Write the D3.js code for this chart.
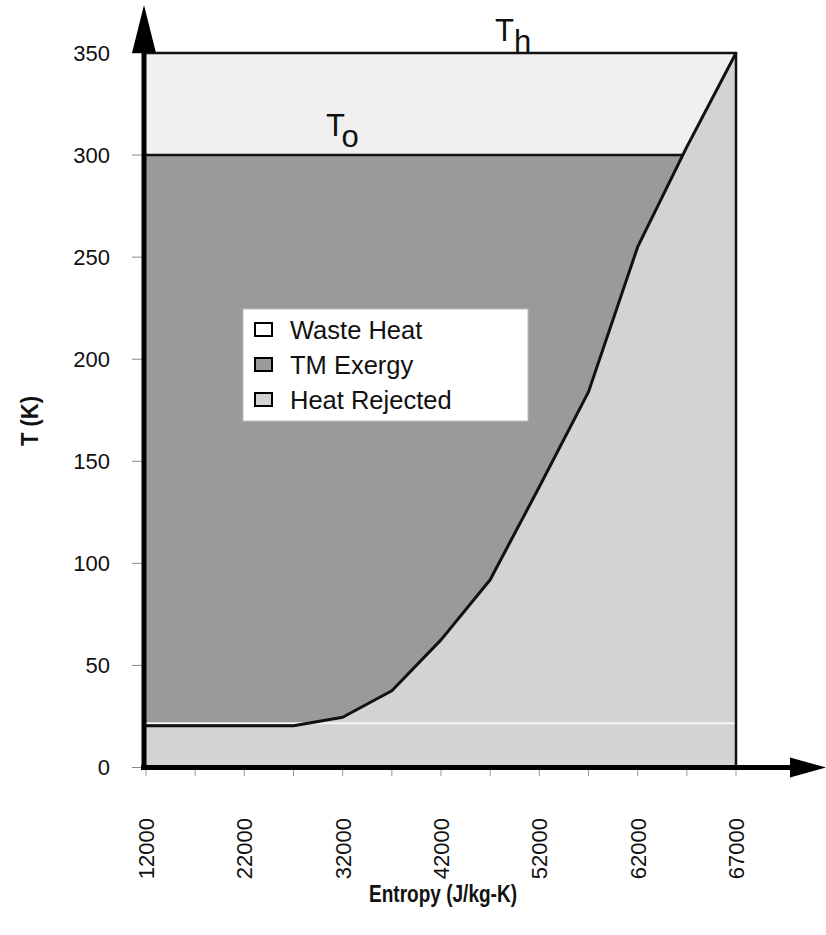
<!DOCTYPE html>
<html>
<head>
<meta charset="utf-8">
<script src="https://cdn.jsdelivr.net/npm/d3@7"></script>
<style>
  html, body { margin: 0; padding: 0; background: #ffffff; }
  svg text { font-family: "Liberation Sans", Arial, Helvetica, sans-serif; fill: #111; }
  svg text.title { font-weight: bold; }
</style>
</head>
<body>
<svg id="chart" width="826" height="935"></svg>
<script>
// Entropy grid (J/kg-K), one entry per tick along the horizontal axis
const entropySteps = ["12000", "17000", "22000", "27000", "32000", "37000", "42000",
                      "47000", "52000", "57000", "62000", "64500", "67000"];
// Labelled entropy ticks
const entropyLabels = ["12000", "22000", "32000", "42000", "52000", "62000", "67000"];
// Working-fluid temperature (K) at each entropy step
const fluidTemp = [20.5, 20.5, 20.5, 20.5, 24.6, 37.6, 62.5, 92, 137.5, 184, 255, 304, 350];
// Temperature ticks (K)
const tempTicks = [0, 50, 100, 150, 200, 250, 300, 350];
// Reference temperatures (K)
const T0 = 300;     // ambient
const Th = 350;     // hot source
const Tline = 21.7; // faint base isotherm
// Legend entries
const legendNames = ["Waste Heat", "TM Exergy", "Heat Rejected"];
const legendFills = ["#ffffff", "#9b9b9b", "#d2d2d2"];

const fillWaste = "#f0f0f0";
const fillExergy = "#9a9a9a";
const fillRejected = "#d3d3d3";

const svg = d3.select("#chart");

const x = d3.scalePoint().domain(entropySteps).range([146, 736]).padding(0);
const y = d3.scaleLinear().domain([0, 350]).range([767.5, 53]);

const pts = entropySteps.map((s, i) => ({ s, t: fluidTemp[i] }));

// Waste heat band: between T0 and Th
svg.append("rect")
  .attr("x", x(entropySteps[0])).attr("y", y(Th))
  .attr("width", x(entropySteps[entropySteps.length - 1]) - x(entropySteps[0]))
  .attr("height", y(T0) - y(Th))
  .attr("fill", fillWaste);

// Exergy region: below T0, left of the fluid curve
const clipT = d => Math.min(d.t, T0);
const exergy = d3.area()
  .x(d => x(d.s))
  .y0(d => y(clipT(d)))
  .y1(y(T0));
svg.append("path")
  .datum(pts)
  .attr("d", exergy)
  .attr("fill", fillExergy);

// Heat rejected: under the fluid curve
const rejected = d3.area()
  .x(d => x(d.s))
  .y0(y(0))
  .y1(d => y(d.t));
svg.append("path")
  .datum(pts)
  .attr("d", rejected)
  .attr("fill", fillRejected);

// faint base isotherm
svg.append("line")
  .attr("x1", x(entropySteps[0])).attr("x2", x(entropySteps[entropySteps.length - 1]))
  .attr("y1", y(Tline)).attr("y2", y(Tline))
  .attr("stroke", "#f6f6f6").attr("stroke-width", 2);

// T0 isotherm up to where it meets the curve
const idx = fluidTemp.findIndex(t => t >= T0);
const ta = fluidTemp[idx - 1], tb = fluidTemp[idx];
const xa = x(entropySteps[idx - 1]), xb = x(entropySteps[idx]);
const xMeet = xa + (T0 - ta) / (tb - ta) * (xb - xa);
svg.append("line")
  .attr("x1", x(entropySteps[0])).attr("x2", xMeet)
  .attr("y1", y(T0)).attr("y2", y(T0))
  .attr("stroke", "#111").attr("stroke-width", 2.5);

// Th isotherm and right boundary
svg.append("path")
  .attr("d", `M${x(entropySteps[0])},${y(Th)} H${x(entropySteps[entropySteps.length - 1])} V${y(0)}`)
  .attr("fill", "none").attr("stroke", "#111").attr("stroke-width", 2.5);

// fluid curve
svg.append("path")
  .datum(pts)
  .attr("d", d3.line().x(d => x(d.s)).y(d => y(d.t)))
  .attr("fill", "none").attr("stroke", "#111").attr("stroke-width", 3)
  .attr("stroke-linejoin", "round");

// y ticks
const yAxisX = 144;
svg.append("g").selectAll("line").data(tempTicks).join("line")
  .attr("x1", 132).attr("x2", yAxisX)
  .attr("y1", d => y(d)).attr("y2", d => y(d))
  .attr("stroke", "#888").attr("stroke-width", 1);
svg.append("g").selectAll("text").data(tempTicks).join("text")
  .attr("x", 110).attr("y", d => y(d)).attr("dy", "0.36em")
  .attr("text-anchor", "end").attr("font-size", 22)
  .text(d => d);

// x ticks
svg.append("g").selectAll("line").data(entropySteps).join("line")
  .attr("x1", d => x(d)).attr("x2", d => x(d))
  .attr("y1", 769).attr("y2", 776)
  .attr("stroke", "#999").attr("stroke-width", 1);
svg.append("g").selectAll("text").data(entropyLabels).join("text")
  .attr("transform", d => `translate(${x(d) + 8},818) rotate(-90)`)
  .attr("text-anchor", "end").attr("font-size", 22)
  .text(d => d);

// axes with arrowheads
svg.append("line")
  .attr("x1", yAxisX).attr("x2", yAxisX).attr("y1", 40).attr("y2", 770)
  .attr("stroke", "#000").attr("stroke-width", 5);
svg.append("path")
  .attr("d", `M${yAxisX},5 L${yAxisX + 12},53 L${yAxisX - 12},53 Z`)
  .attr("fill", "#000");
svg.append("line")
  .attr("x1", 141).attr("x2", 800).attr("y1", y(0)).attr("y2", y(0))
  .attr("stroke", "#000").attr("stroke-width", 5);
svg.append("path")
  .attr("d", `M826,${y(0)} L790,${y(0) - 10} L790,${y(0) + 10} Z`)
  .attr("fill", "#000");

// axis titles (condensed bold)
svg.append("text").attr("class", "title")
  .attr("transform", "translate(38,421) rotate(-90)")
  .attr("text-anchor", "middle").attr("font-size", 23)
  .attr("textLength", 50).attr("lengthAdjust", "spacingAndGlyphs")
  .text("T (K)");
svg.append("text").attr("class", "title")
  .attr("x", 443).attr("y", 902)
  .attr("text-anchor", "middle").attr("font-size", 23)
  .attr("textLength", 148).attr("lengthAdjust", "spacingAndGlyphs")
  .text("Entropy (J/kg-K)");

// temperature labels
function tempLabel(px, py, sub) {
  const t = svg.append("text").attr("x", px).attr("y", py).attr("font-size", 31);
  t.append("tspan").text("T");
  t.append("tspan").attr("dy", 11).text(sub);
}
tempLabel(495, 41, "h");
tempLabel(326, 136, "o");

// legend
const lg = svg.append("g").attr("transform", "translate(243,309)");
lg.append("rect").attr("width", 285).attr("height", 112)
  .attr("fill", "#fff").attr("stroke", "#bbb").attr("stroke-width", 1);
const rows = lg.selectAll("g").data(legendNames).join("g")
  .attr("transform", (d, i) => `translate(0,${21 + i * 35})`);
rows.append("rect")
  .attr("x", 12).attr("y", -7).attr("width", 17).attr("height", 13)
  .attr("fill", (d, i) => legendFills[i]).attr("stroke", "#000").attr("stroke-width", 2);
rows.append("text")
  .attr("x", 47).attr("y", 0).attr("dy", "0.36em").attr("font-size", 25.5)
  .text(d => d);
</script>
</body>
</html>
